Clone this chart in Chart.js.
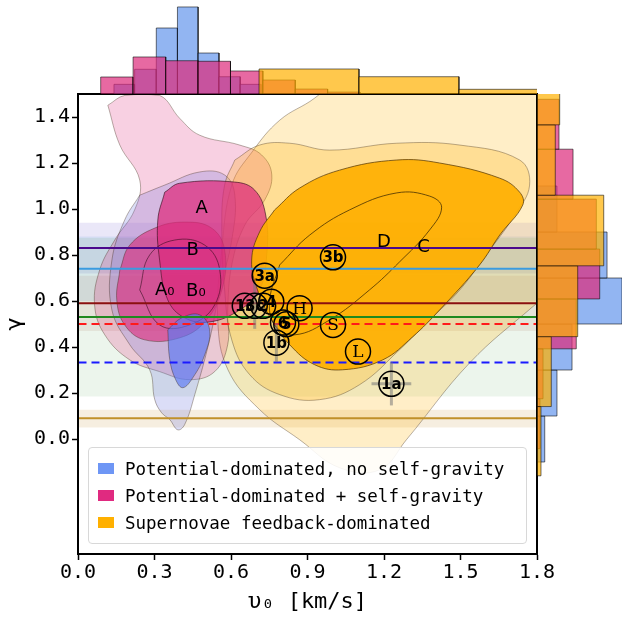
<!DOCTYPE html>
<html>
<head>
<meta charset="utf-8">
<script src="https://cdn.jsdelivr.net/npm/chart.js@4.4.1/dist/chart.umd.min.js"></script>
<style>
  body { margin: 0; background: #fff; }
  #wrap { position: relative; width: 622px; height: 617px; overflow: hidden; }
  canvas { position: absolute; }
  #legend {
    position: absolute; left: 88px; top: 447px; width: 439px; height: 97px;
    box-sizing: border-box; border: 1px solid #d8d8d8; border-radius: 4px;
    background: rgba(255,255,255,0.88); padding-top: 7px;
    font-family: 'DejaVu Sans Mono', monospace; font-size: 17.5px; color: #000;
  }
  .row { display: flex; align-items: center; height: 27px; padding-left: 9px; }
  .sw { width: 16px; height: 11px; margin-right: 11px; }
</style>
</head>
<body>
<div id="wrap">
  <canvas id="main" width="622" height="617" style="left:0;top:0"></canvas>
  <canvas id="topHist" width="459" height="94" style="left:78px;top:0"></canvas>
  <canvas id="rightHist" width="85" height="460" style="left:537px;top:94px"></canvas>
  <div id="legend"></div>
</div>
<script>
// ---- axes ----
const xTicks = [0.0, 0.3, 0.6, 0.9, 1.2, 1.5, 1.8];
const yTicks = [0.0, 0.2, 0.4, 0.6, 0.8, 1.0, 1.2, 1.4];

// ---- legend ----
const legendLabels = ['Potential-dominated, no self-gravity', 'Potential-dominated + self-gravity', 'Supernovae feedback-dominated'];

// ---- observed gamma lines and their bands ----
const refGamma = [0.83, 0.74, 0.59, 0.53, 0.50, 0.333, 0.09];
const bandLo   = [0.72, 0.60, 0.47, 0.185, null, null, 0.05];
const bandHi   = [0.94, 0.88, 0.71, 0.875, null, null, 0.127];

// ---- simulation markers ----
const markerLabels = ['3b', '3a', '1c', '3c', '2', '4', 'H', '6', '5', 'S', 'L', '1b', '1a'];
const markerV = [1.00, 0.732, 0.654, 0.693, 0.726, 0.758, 0.869, 0.804, 0.817, 1.00, 1.098, 0.778, 1.229];
const markerG = [0.79, 0.71, 0.579, 0.579, 0.579, 0.597, 0.569, 0.506, 0.499, 0.496, 0.38, 0.419, 0.24];
const markerErrV = [0, 0, 0, 0, 0, 0, 0, 0, 0, 0, 0, 0, 0.078];
const markerErrG = [0, 0, 0, 0.10, 0, 0, 0, 0, 0, 0, 0, 0.085, 0.094];

// ---- text labels ----
const letterText = ['A', 'B', 'A₀', 'B₀', 'D', 'C'];
const letterV = [0.485, 0.45, 0.34, 0.462, 1.20, 1.355];
const letterG = [1.005, 0.822, 0.648, 0.64, 0.856, 0.835];

// ---- density contours, [v0, gamma] ----
const snLow = [[1.026,1.582],[0.928,1.482],[0.791,1.386],[0.682,1.247],[0.603,1.104],[0.564,0.822],[0.548,0.518],
  [0.588,0.301],[0.712,0.128],[0.869,-0.003],[1.026,-0.125],[1.183,-0.134],[1.288,-0.003],[1.536,0.331],
  [1.783,0.575],[2.046,0.822],[2.124,1.473],[1.889,1.734],[1.34,1.734]];
const snMid = [[0.615,1.213],[0.712,1.278],[0.83,1.286],[0.987,1.256],[1.25,1.286],[1.497,1.278],[1.732,1.213],
  [1.771,1.104],[1.713,0.974],[1.615,0.822],[1.497,0.648],[1.379,0.518],[1.261,0.388],[1.104,0.236],
  [0.947,0.171],[0.791,0.193],[0.673,0.28],[0.603,0.431],[0.575,0.648],[0.564,0.909],[0.575,1.104]];
const snCore = [[0.771,0.996],[0.869,1.091],[1.026,1.169],[1.25,1.213],[1.418,1.20],[1.654,1.134],[1.732,1.073],
  [1.744,1.017],[1.654,0.887],[1.575,0.757],[1.418,0.561],[1.312,0.444],[1.195,0.344],[1.038,0.301],
  [0.928,0.323],[0.83,0.41],[0.759,0.518],[0.704,0.648],[0.681,0.778],[0.712,0.90]];
const snInner = [[0.791,0.757],[0.909,0.887],[1.065,0.996],[1.25,1.07],[1.379,1.056],[1.426,1.008],[1.379,0.909],
  [1.261,0.77],[1.143,0.648],[0.987,0.518],[0.85,0.453],[0.771,0.496],[0.752,0.605]];
const sgOuter = [[0.117,1.451],[0.184,1.494],[0.32,1.494],[0.399,1.394],[0.477,1.321],[0.634,1.278],[0.72,1.235],
  [0.76,1.148],[0.732,1.039],[0.654,0.93],[0.603,0.757],[0.587,0.561],[0.587,0.41],[0.536,0.293],[0.438,0.258],
  [0.32,0.293],[0.203,0.344],[0.105,0.453],[0.065,0.583],[0.085,0.735],[0.144,0.865],[0.222,0.996],[0.242,1.126],[0.164,1.278]];
const sgA = [[0.34,1.073],[0.399,1.112],[0.615,1.117],[0.693,1.082],[0.736,0.974],[0.74,0.80],[0.712,0.648],
  [0.634,0.561],[0.516,0.509],[0.418,0.527],[0.352,0.605],[0.32,0.778],[0.313,0.952]];
const sgB = [[0.164,0.735],[0.203,0.843],[0.301,0.917],[0.418,0.943],[0.524,0.917],[0.575,0.822],[0.564,0.648],
  [0.497,0.509],[0.399,0.44],[0.262,0.431],[0.183,0.496],[0.152,0.605]];
const sgInner = [[0.242,0.648],[0.281,0.80],[0.379,0.865],[0.497,0.843],[0.556,0.735],[0.536,0.583],[0.438,0.496],[0.32,0.496]];
const ngOuter = [[0.242,1.06],[0.34,1.104],[0.477,1.161],[0.575,1.148],[0.615,1.06],[0.603,0.865],[0.556,0.648],
  [0.516,0.431],[0.458,0.193],[0.418,0.062],[0.391,0.04],[0.36,0.084],[0.328,0.114],[0.301,0.171],[0.281,0.301],
  [0.203,0.41],[0.133,0.561],[0.133,0.778],[0.183,0.952]];
const ngCore = [[0.352,0.475],[0.407,0.527],[0.477,0.54],[0.516,0.475],[0.497,0.366],[0.45,0.266],[0.411,0.223],[0.383,0.258],[0.36,0.344]];

// ---- marginal histograms (relative heights) ----
const topBlueEdges = [0.141, 0.222, 0.307, 0.390, 0.471, 0.553, 0.636, 0.718];
const topBlueH = [0.103, 0.263, 0.702, 0.926, 0.436, 0.184, 0.103];
const topPinkEdges = [0.089, 0.216, 0.344, 0.471, 0.598, 0.725, 0.852, 0.979, 1.106];
const topPinkH = [0.181, 0.394, 0.354, 0.348, 0.245, 0.149, 0.053, 0.021];
const topOrangeEdges = [0.71, 1.102, 1.494, 1.886];
const topOrangeH = [0.266, 0.184, 0.05];

const rightBlueEdges = [-0.10, 0.10, 0.30, 0.50, 0.70, 0.90, 1.10];
const rightBlueW = [0.091, 0.235, 0.412, 1.0, 0.824, 0.235];
const rightPinkEdges = [-0.042, 0.175, 0.392, 0.609, 0.826, 1.043, 1.26, 1.477];
const rightPinkW = [0.035, 0.071, 0.462, 0.738, 0.698, 0.424, 0.259];
const rightOrangeEdges = [-0.16, 0.141, 0.445, 0.753, 1.06, 1.366, 1.672];
const rightOrangeW = [0.047, 0.168, 0.479, 0.785, 0.215, 0.267];

// colours
const BLUE = [100, 149, 237], PINK = [221, 42, 123], ORANGE = [255, 176, 0];
const rgba = (c, a) => `rgba(${c[0]},${c[1]},${c[2]},${a})`;
const refColors = ['#4b0a8c', '#3a9be0', '#8b1010', '#1f8a1f', '#ff1a1a', '#1a1aff', '#c0902a'];
const refDashed = [false, false, false, false, true, true, false];
const bandColors = ['rgba(90,70,200,0.13)', 'rgba(40,130,220,0.10)', 'rgba(139,40,20,0.09)', 'rgba(40,140,40,0.09)', null, null, 'rgba(200,150,60,0.16)'];

const pts = arr => arr.map(([x, y]) => ({x, y}));

function shape(points, fill, border, bw, tension) {
    const closed = points.concat([points[0]]);
    return {
        data: pts(closed), fill: 'shape', backgroundColor: fill,
        borderColor: border, borderWidth: bw, pointRadius: 0, tension: tension
    };
}

// ---- main plot datasets, bottom to top ----
const layers = [];
refGamma.forEach((g, i) => {
    if (bandLo[i] === null) return;
    layers.push(shape([[-0.1, bandLo[i]], [1.9, bandLo[i]], [1.9, bandHi[i]], [-0.1, bandHi[i]]], bandColors[i], 'rgba(0,0,0,0)', 0, 0));
});
const edge = 'rgba(60,40,20,0.45)';
layers.push(shape(snLow, rgba(ORANGE, 0.22), edge, 0.8, 0.4));
layers.push(shape(sgOuter, rgba(PINK, 0.22), edge, 0.8, 0.4));
layers.push(shape(ngOuter, rgba([110, 120, 225], 0.25), edge, 0.8, 0.4));
layers.push(shape(snMid, rgba(ORANGE, 0.25), edge, 0.8, 0.4));
layers.push(shape(sgB, rgba(PINK, 0.6), edge, 0.9, 0.4));
layers.push(shape(sgA, rgba(PINK, 0.72), 'rgba(40,10,20,0.6)', 1, 0.4));
layers.push(shape(sgInner, rgba(PINK, 0.15), 'rgba(40,10,20,0.6)', 0.9, 0.4));
layers.push(shape(ngCore, rgba([90, 120, 245], 0.65), edge, 0.9, 0.4));
layers.push(shape(snCore, rgba(ORANGE, 0.92), 'rgba(80,50,0,0.7)', 1, 0.4));
layers.push(shape(snInner, rgba(ORANGE, 0.3), 'rgba(60,40,0,0.75)', 1, 0.4));

refGamma.forEach((g, i) => {
    layers.push({
        data: pts([[-0.1, g], [1.9, g]]), borderColor: refColors[i], borderWidth: 2,
        borderDash: refDashed[i] ? [8, 5] : [], pointRadius: 0, fill: false
    });
});

markerV.forEach((v, i) => {
    const style = {borderColor: 'rgba(120,120,120,0.55)', borderWidth: 3, pointRadius: 0, fill: false};
    if (markerErrV[i]) layers.push(Object.assign({data: pts([[v - markerErrV[i], markerG[i]], [v + markerErrV[i], markerG[i]]])}, style));
    if (markerErrG[i]) layers.push(Object.assign({data: pts([[v, markerG[i] - markerErrG[i]], [v, markerG[i] + markerErrG[i]]])}, style));
});

layers.push({
    data: markerV.map((v, i) => ({x: v, y: markerG[i]})), showLine: false,
    pointRadius: 12.5, pointBorderWidth: 1.5, pointBorderColor: '#000',
    pointBackgroundColor: 'rgba(0,0,0,0)'
});

layers.forEach((d, i) => { d.order = layers.length - i; });

const serifLabels = new Set(['H', 'S', 'L']);

const overlay = {
    id: 'overlay',
    afterDatasetsDraw(chart) {
        const {ctx, chartArea: a} = chart;
        const xs = chart.scales.x, ys = chart.scales.y;
        ctx.save();
        ctx.textAlign = 'center';
        ctx.textBaseline = 'middle';
        ctx.fillStyle = '#000';
        letterText.forEach((t, i) => {
            ctx.font = '18px "DejaVu Sans"';
            ctx.fillText(t, xs.getPixelForValue(letterV[i]), ys.getPixelForValue(letterG[i]));
        });
        markerLabels.forEach((t, i) => {
            ctx.font = serifLabels.has(t) ? '17px "DejaVu Serif"' : 'bold 15px "DejaVu Sans"';
            ctx.fillText(t, xs.getPixelForValue(markerV[i]), ys.getPixelForValue(markerG[i]) + 1);
        });
        ctx.strokeStyle = '#000';
        ctx.lineWidth = 2;
        ctx.strokeRect(a.left, a.top, a.right - a.left, a.bottom - a.top);
        ctx.restore();
    }
};

const tickFont = {family: 'DejaVu Sans Mono', size: 20};

new Chart(document.getElementById('main'), {
    type: 'line',
    data: {datasets: layers},
    plugins: [overlay],
    options: {
        responsive: false, animation: false, events: [],
        layout: {padding: {left: 0, top: 94, right: 85, bottom: 0}},
        plugins: {legend: {display: false}, tooltip: {enabled: false}},
        scales: {
            x: {
                type: 'linear', min: 0, max: 1.8,
                afterBuildTicks: s => { s.ticks = xTicks.map(v => ({value: v})); },
                afterFit: s => { s.height = 63; },
                ticks: {font: tickFont, color: '#000', padding: 1, maxRotation: 0, callback: v => v.toFixed(1)},
                grid: {drawOnChartArea: false, drawTicks: true, tickLength: 6, tickWidth: 1.5, tickColor: '#000'},
                border: {display: true, color: '#000', width: 2},
                title: {display: true, text: 'υ₀ [km/s]', color: '#000', font: {family: 'DejaVu Sans Mono', size: 22}, padding: {top: 0, bottom: 2}}
            },
            y: {
                type: 'linear', min: -0.5, max: 1.5,
                afterBuildTicks: s => { s.ticks = yTicks.map(v => ({value: v})); },
                afterFit: s => { s.width = 78; },
                ticks: {font: tickFont, color: '#000', padding: 2, callback: v => v.toFixed(1)},
                grid: {drawOnChartArea: false, drawTicks: true, tickLength: 6, tickWidth: 1.5, tickColor: '#000'},
                border: {display: true, color: '#000', width: 2},
                title: {display: true, text: 'γ', color: '#000', font: {family: 'DejaVu Sans Mono', size: 22}, padding: {top: 2, bottom: 0}}
            }
        }
    }
});

// ---- marginal histograms ----
function topBars(edges, heights, color) {
    return heights.map((h, i) => shape([[edges[i], 0], [edges[i], h], [edges[i + 1], h], [edges[i + 1], 0]],
        rgba(color, 0.7), 'rgba(0,0,0,0.55)', 1, 0));
}
function rightBars(edges, widths, color) {
    return widths.map((w, i) => shape([[0, edges[i]], [w, edges[i]], [w, edges[i + 1]], [0, edges[i + 1]]],
        rgba(color, 0.7), 'rgba(0,0,0,0.55)', 1, 0));
}
function histChart(id, datasets, xr, yr) {
    datasets.forEach((d, i) => { d.order = datasets.length - i; });
    new Chart(document.getElementById(id), {
        type: 'line',
        data: {datasets},
        options: {
            responsive: false, animation: false, events: [],
            layout: {padding: 0},
            plugins: {legend: {display: false}, tooltip: {enabled: false}},
            scales: {
                x: {type: 'linear', min: xr[0], max: xr[1], display: false},
                y: {type: 'linear', min: yr[0], max: yr[1], display: false}
            }
        }
    });
}
histChart('topHist',
    [].concat(topBars(topBlueEdges, topBlueH, BLUE), topBars(topPinkEdges, topPinkH, PINK), topBars(topOrangeEdges, topOrangeH, ORANGE)),
    [0, 1.8], [0, 1]);
histChart('rightHist',
    [].concat(rightBars(rightBlueEdges, rightBlueW, BLUE), rightBars(rightPinkEdges, rightPinkW, PINK), rightBars(rightOrangeEdges, rightOrangeW, ORANGE)),
    [0, 1], [-0.5, 1.5]);

// ---- legend ----
const legendColors = ['rgb(110,150,245)', 'rgb(224,42,128)', 'rgb(255,176,0)'];
const legendEl = document.getElementById('legend');
legendLabels.forEach((t, i) => {
    const row = document.createElement('div');
    row.className = 'row';
    row.innerHTML = `<span class="sw" style="background:${legendColors[i]}"></span><span>${t}</span>`;
    legendEl.appendChild(row);
});
</script>
</body>
</html>
